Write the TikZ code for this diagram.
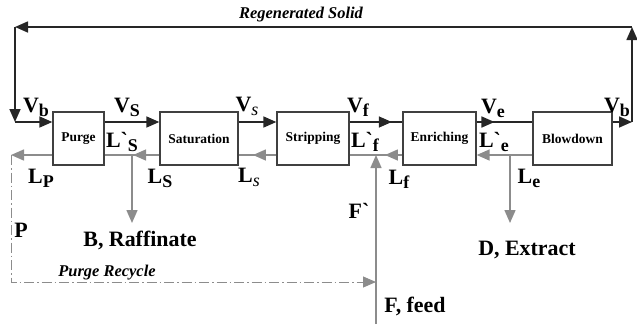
\documentclass[tikz,border=0pt]{standalone}
\usepackage{fontspec}
\setmainfont{Liberation Serif}
\usetikzlibrary{arrows.meta,decorations.markings}

\definecolor{liqgray}{gray}{0.55}
\definecolor{boxline}{gray}{0.25}

% lowered subscript letter for the stream labels
\newcommand{\flowsub}[1]{\raisebox{-4bp}{\fontsize{18}{18}\selectfont #1}}

\begin{document}
\begin{tikzpicture}[x=1bp,y=-1bp,>={Triangle[length=13bp,width=11bp]},
  unit/.style={draw=boxline,line width=1.3bp,minimum height=53bp,inner sep=0pt,
    font=\fontsize{13.5}{15}\selectfont\bfseries},
  vap/.style={line width=1.6bp,black!85},
  liq/.style={line width=1.5bp,liqgray},
  lbl/.style={inner sep=0pt,font=\fontsize{22}{24}\selectfont\bfseries},
  note/.style={inner sep=0pt,font=\fontsize{16.5}{18}\selectfont\bfseries\itshape},
  tip/.style={postaction={decorate},decoration={markings,mark=at position #1 with {\arrow{>}}}}]
\useasboundingbox (0,0) rectangle (637,324);

% units
\node[unit,minimum width=51bp] (purge) at (78.5,138.5) {Purge};
\node[unit,minimum width=78bp] (sat) at (199,138.5) {Saturation};
\node[unit,minimum width=72bp] (strip) at (313,138.5) {Stripping};
\node[unit,minimum width=73bp] (enrich) at (439.5,138.5) {Enriching};
\node[unit,minimum width=79bp] (blow) at (572.5,138.5) {Blowdown};

\coordinate (V) at (0,122);
\coordinate (L) at (0,155);

% solid (vapour) stream, left to right
\draw[vap,->] (purge.east |- V) -- (sat.west |- V);
\draw[vap,->] (sat.east |- V) -- (strip.west |- V);
\draw[vap,tip=0.8] (strip.east |- V) -- (enrich.west |- V);
\draw[vap,tip=0.32] (enrich.east |- V) -- (blow.west |- V);

% regenerated solid back to the purge unit
\coordinate (br) at (632,122);
\coordinate (tr) at (632,27);
\coordinate (tl) at (15,27);
\coordinate (bl) at (15,122);
\draw[vap,->] (blow.east |- V) -- (br);
\draw[vap,->] (br) -- (tr);
\draw[vap,->] (tr) -- (tl);
\draw[vap,->] (tl) -- (bl);
\draw[vap,->] (bl) -- (purge.west |- V);

% liquid stream, right to left
\coordinate (raf) at (132,155);
\coordinate (ext) at (510,155);
\coordinate (feed) at (376,155);
\coordinate (pl) at (11,155);
\draw[liq,->] (blow.west |- L) -- (enrich.east |- L);
\draw[liq,tip=0.33] (enrich.west |- L) -- (strip.east |- L);
\draw[liq,tip=0.62] (strip.west |- L) -- (sat.east |- L);
\draw[liq,tip=0.48] (sat.west |- L) -- (purge.east |- L);
\draw[liq,->] (purge.west |- L) -- (pl);

% side draws and feed
\coordinate (rafout) at (132,223);
\coordinate (extout) at (510,223);
\coordinate (feedin) at (376,324);
\coordinate (pc) at (11,282);
\draw[liq,->] (raf) -- (rafout);
\draw[liq,->] (ext) -- (extout);
\draw[liq,->] (feedin) -- (feed);
\draw[liq,line width=1bp,dash pattern=on 10bp off 3bp on 1.5bp off 3bp,->]
  (pl) -- (pc) -- (pc -| feed);

% labels
\node[note] (regen) at (301,15) {Regenerated Solid};
\node[note] (recyc) at (107,273) {Purge Recycle};

\node[lbl] (vb1) at (36,107) {V\flowsub{b}};
\node[lbl] (vs1) at (127,107) {V\flowsub{S}};
\node[lbl] (vs2) at (247,106) {V\flowsub{\mdseries\itshape s}};
\node[lbl] (vf) at (358,107) {V\flowsub{f}};
\node[lbl] (ve) at (493,108) {V\flowsub{e}};
\node[lbl] (vb2) at (617,107) {V\flowsub{b}};

\node[lbl] (lsp) at (122,142) {L\textasciigrave\flowsub{S}};
\node[lbl] (lfp) at (365,142) {L\textasciigrave\flowsub{f}};
\node[lbl] (lep) at (494,142) {L\textasciigrave\flowsub{e}};

\node[lbl] (lp) at (41,178) {L\flowsub{P}};
\node[lbl] (ls1) at (160,178) {L\flowsub{S}};
\node[lbl] (ls2) at (249,177) {L\flowsub{\mdseries\itshape s}};
\node[lbl] (lf) at (399,179) {L\flowsub{f}};
\node[lbl] (le) at (529,178) {L\flowsub{e}};

\node[lbl] (p) at (21,230) {P};
\node[lbl] (raffin) at (140,240) {B, Raffinate};
\node[lbl] (fp) at (359,211) {F\textasciigrave};
\node[lbl] (extr) at (527,250) {D, Extract};
\node[lbl] (feedlbl) at (415,306) {F, feed};
\end{tikzpicture}
\end{document}
